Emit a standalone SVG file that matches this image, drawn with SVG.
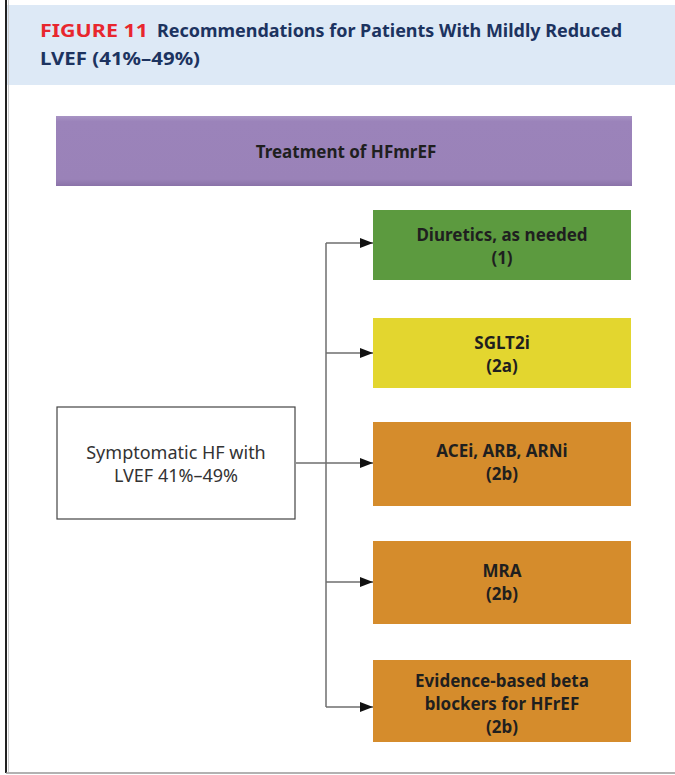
<svg xmlns="http://www.w3.org/2000/svg" width="675" height="775" viewBox="0 0 675 775">
<style>
.title{font-family:"Noto Sans","Liberation Sans",sans-serif;font-weight:bold;font-size:17px}
.lbl{font-family:"Noto Sans","Liberation Sans",sans-serif;font-weight:bold;font-size:17px;fill:#1f1f1f;text-anchor:middle}
.reg{font-family:"Noto Sans","Liberation Sans",sans-serif;font-size:18px;fill:#333;text-anchor:middle}
.conn{stroke:#6e6e6e;stroke-width:1.5;fill:none}
</style>
<defs>
<marker id="arr" viewBox="0 0 13 10" refX="13" refY="5" markerWidth="13" markerHeight="10" markerUnits="userSpaceOnUse" orient="auto">
<path d="M0,0 L13,5 L0,10 Z" fill="#111"/>
</marker>
<linearGradient id="purp" x1="0" y1="0" x2="0" y2="1">
<stop offset="0" stop-color="#a894c4"/>
<stop offset="0.08" stop-color="#9b83ba"/>
<stop offset="0.9" stop-color="#9a82b8"/>
<stop offset="1" stop-color="#8a72a8"/>
</linearGradient>
</defs>
<rect x="0" y="0" width="675" height="775" fill="#fff"/>
<rect x="7" y="5" width="668" height="80" fill="#dde9f6"/>
<line x1="6" y1="0" x2="6" y2="773" stroke="#222" stroke-width="2"/>
<line x1="8.5" y1="0" x2="8.5" y2="772" stroke="#ccc" stroke-width="1"/>
<line x1="6" y1="773" x2="675" y2="773" stroke="#999" stroke-width="1.5"/>
<g id="title">
<text class="title" x="40" y="37"><tspan fill="#e8262e" textLength="108" lengthAdjust="spacingAndGlyphs">FIGURE 11</tspan></text>
<text class="title" x="157" y="37" fill="#1c3360" textLength="465" lengthAdjust="spacingAndGlyphs">Recommendations for Patients With Mildly Reduced</text>
<text class="title" x="40" y="65" fill="#1c3360" textLength="160" lengthAdjust="spacingAndGlyphs">LVEF (41%–49%)</text>
</g>
<g id="connectors">
<line class="conn" x1="296" y1="463" x2="373" y2="463" marker-end="url(#arr)"/>
<line class="conn" x1="326" y1="243" x2="326" y2="707"/>
<line class="conn" x1="326" y1="243" x2="373" y2="243" marker-end="url(#arr)"/>
<line class="conn" x1="326" y1="353" x2="373" y2="353" marker-end="url(#arr)"/>
<line class="conn" x1="326" y1="582" x2="373" y2="582" marker-end="url(#arr)"/>
<line class="conn" x1="326" y1="707" x2="373" y2="707" marker-end="url(#arr)"/>
</g>
<g id="treatment">
<rect x="56" y="116" width="576" height="70" fill="url(#purp)"/>
<text class="lbl" x="346" y="158">Treatment of HFmrEF</text>
</g>
<g id="symptomatic">
<rect x="57" y="407" width="238" height="112" fill="#fff" stroke="#444" stroke-width="1.2"/>
<text class="reg" x="176" y="459">Symptomatic HF with</text>
<text class="reg" x="176" y="482">LVEF 41%–49%</text>
</g>
<g id="diuretics">
<rect x="373" y="210" width="258" height="70" fill="#5c9a3f"/>
<text class="lbl" x="502" y="241">Diuretics, as needed</text>
<text class="lbl" x="502" y="264">(1)</text>
</g>
<g id="sglt2i">
<rect x="373" y="318" width="258" height="70" fill="#e3d62f"/>
<text class="lbl" x="502" y="349">SGLT2i</text>
<text class="lbl" x="502" y="372">(2a)</text>
</g>
<g id="acei">
<rect x="373" y="422" width="258" height="84" fill="#d58c2c"/>
<text class="lbl" x="502" y="457">ACEi, ARB, ARNi</text>
<text class="lbl" x="502" y="480">(2b)</text>
</g>
<g id="mra">
<rect x="373" y="541" width="258" height="83" fill="#d58c2c"/>
<text class="lbl" x="502" y="577">MRA</text>
<text class="lbl" x="502" y="600">(2b)</text>
</g>
<g id="beta">
<rect x="373" y="660" width="258" height="82" fill="#d58c2c"/>
<text class="lbl" x="502" y="687">Evidence-based beta</text>
<text class="lbl" x="502" y="710">blockers for HFrEF</text>
<text class="lbl" x="502" y="733">(2b)</text>
</g>
</svg>
